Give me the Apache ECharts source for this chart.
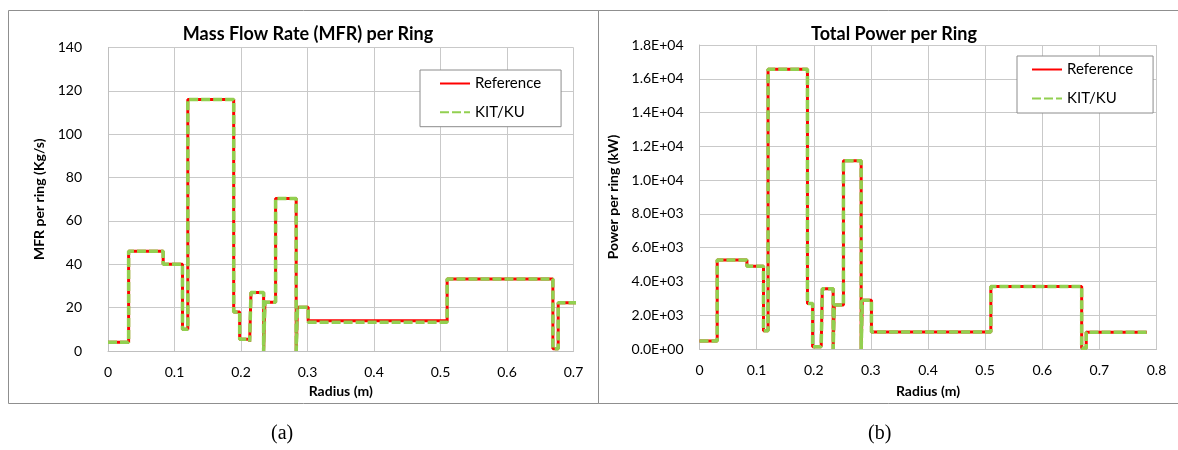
<!DOCTYPE html>
<html>
<head>
<meta charset="utf-8">
<script src="https://cdn.jsdelivr.net/npm/echarts@6/dist/echarts.min.js"></script>
<style>
  html, body { margin: 0; padding: 0; background: #ffffff; }
  #chart { width: 1178px; height: 450px; }
</style>
</head>
<body>
<div id="chart"></div>
<script>
// Inner radius (m) of each ring; the last entry closes the outermost ring.
const ringRadius = [0, 0.031, 0.083, 0.112, 0.120, 0.189, 0.198, 0.213, 0.215, 0.234, 0.236,
                    0.252, 0.283, 0.285, 0.301, 0.510, 0.669, 0.677, 0.783];

// Mass flow rate per ring (kg/s)
const mfrReference = [4, 46, 40, 10, 116, 18, 5.4, 4.3, 27, 0, 22.5,
                      70.3, 0, 20.2, 14, 33.2, 1, 22.3, 22.3];
const mfrKIT       = [4, 46, 40, 10, 116, 18, 5.4, 4.3, 27, 0, 22.5,
                      70.3, 0, 20.2, 13.3, 33.2, 1, 22.3, 22.3];

// Total power per ring (kW)
const powerReference = [470, 5270, 4900, 1080, 16560, 2690, 140, 140, 3570, 0, 2600,
                        11150, 0, 2880, 1000, 3700, 40, 990, 990];
const powerKIT       = [470, 5270, 4900, 1080, 16560, 2690, 140, 140, 3570, 0, 2600,
                        11150, 0, 2880, 1000, 3700, 40, 990, 990];

// Axis settings
const mfrTicks = { min: 0, max: 140, interval: 20 };
const powerTicks = { min: 0, max: 18000, interval: 2000 };

const FONT = 'Lato, "Open Sans", sans-serif';
const GRID_COLOR = '#c9c9c9';
const RED = '#ff0000';
const GREEN = '#92d050';

const pairs = (xs, ys) => xs.map((x, i) => [x, ys[i]]);

// Labels such as 1.8E+04
function sciLabel(v) {
  if (v === 0) return '0.0E+00';
  const e = Math.floor(Math.log10(Math.abs(v)) + 1e-9);
  const m = v / Math.pow(10, e);
  return m.toFixed(1) + 'E' + (e < 0 ? '-' : '+') + String(Math.abs(e)).padStart(2, '0');
}

function xAxisFor(gridIndex, max, nameGap) {
  return {
    gridIndex, type: 'value', min: 0, max, interval: 0.1,
    name: 'Radius (m)', nameLocation: 'middle', nameGap,
    nameTextStyle: { fontFamily: FONT, fontSize: 14, fontWeight: 'bold', color: '#000' },
    axisLine: { show: true, lineStyle: { color: '#bfbfbf', width: 1 } },
    axisTick: { show: false },
    axisLabel: { fontFamily: FONT, fontSize: 14, color: '#000', margin: 14,
                 formatter: v => String(Math.round(v * 10) / 10) },
    splitLine: { show: true, lineStyle: { color: GRID_COLOR, width: 1 } }
  };
}

function yAxisFor(gridIndex, ticks, name, nameGap, margin, formatter) {
  return {
    gridIndex, type: 'value', min: ticks.min, max: ticks.max, interval: ticks.interval,
    name, nameLocation: 'middle', nameGap,
    nameTextStyle: { fontFamily: FONT, fontSize: 14, fontWeight: 'bold', color: '#000' },
    axisLine: { show: true, lineStyle: { color: '#bfbfbf', width: 1 } },
    axisTick: { show: false },
    axisLabel: { fontFamily: FONT, fontSize: 14, color: '#000', margin, formatter },
    splitLine: { show: true, lineStyle: { color: GRID_COLOR, width: 1 } }
  };
}

function stepSeries(name, idx, xs, ys, color, width, dashed) {
  return {
    name, type: 'line', step: 'end',
    xAxisIndex: idx, yAxisIndex: idx,
    data: pairs(xs, ys),
    symbol: 'none', showSymbol: false,
    lineStyle: { color, width, type: dashed ? [9, 3] : 'solid' },
    itemStyle: { color },
    clip: true, animation: false
  };
}

function legendAt(left, top, padding, gap) {
  return {
    data: ['Reference', 'KIT/KU'],
    orient: 'vertical', left, top, padding, itemGap: gap,
    itemWidth: 30, itemHeight: 14,
    itemStyle: { opacity: 0 },
    borderColor: '#8c8c8c', borderWidth: 1, backgroundColor: '#ffffff',
    selectedMode: false,
    textStyle: { fontFamily: FONT, fontSize: 15, color: '#000' }
  };
}

const chart = echarts.init(document.getElementById('chart'), null, { renderer: 'canvas' });

chart.setOption({
  animation: false,
  backgroundColor: '#ffffff',
  title: [
    { text: 'Mass Flow Rate (MFR) per Ring', left: 303, top: 20, textAlign: 'center',
      textStyle: { fontFamily: FONT, fontSize: 18, fontWeight: 'bold', color: '#000' } },
    { text: 'Total Power per Ring', left: 889, top: 20, textAlign: 'center',
      textStyle: { fontFamily: FONT, fontSize: 18, fontWeight: 'bold', color: '#000' } }
  ],
  grid: [
    { left: 108, right: 604.5, top: 47.5, bottom: 99 },
    { left: 699.5, right: 21.5, top: 45, bottom: 101 }
  ],
  xAxis: [xAxisFor(0, 0.7, 33), xAxisFor(1, 0.8, 35)],
  yAxis: [
    yAxisFor(0, mfrTicks, 'MFR per ring (Kg/s)', 62, 26, v => String(v)),
    yAxisFor(1, powerTicks, 'Power per ring (kW)', 79, 16, sciLabel)
  ],
  legend: [
    legendAt(420, 70, [6, 20, 7, 19], 13.7),
    legendAt(1017, 56, [6, 20, 7, 14], 14)
  ],
  series: [
    stepSeries('Reference', 0, ringRadius, mfrReference, RED, 3, false),
    stepSeries('KIT/KU', 0, ringRadius, mfrKIT, GREEN, 3.5, true),
    stepSeries('Reference', 1, ringRadius, powerReference, RED, 3, false),
    stepSeries('KIT/KU', 1, ringRadius, powerKIT, GREEN, 3.5, true)
  ],
  graphic: [
    // panel frames
    { type: 'rect', shape: { x: 8.5, y: 10.5, width: 590, height: 393 },
      style: { fill: null, stroke: '#8f8f8f', lineWidth: 1 }, silent: true, z: -1 },
    { type: 'rect', shape: { x: 598.5, y: 10.5, width: 585, height: 393 },
      style: { fill: null, stroke: '#8f8f8f', lineWidth: 1 }, silent: true, z: -1 },
    // sub-figure captions
    { type: 'text', left: 271, top: 424,
      style: { text: '(a)', font: '20px "Liberation Serif", serif', fill: '#000' } },
    { type: 'text', left: 868, top: 424,
      style: { text: '(b)', font: '20px "Liberation Serif", serif', fill: '#000' } }
  ]
});
</script>
</body>
</html>
